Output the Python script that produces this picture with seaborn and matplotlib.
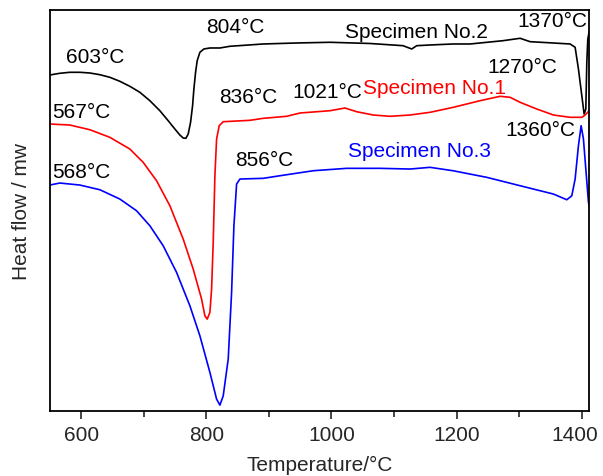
import numpy as np
import pandas as pd
import matplotlib
matplotlib.use("Agg")
import matplotlib.pyplot as plt
import matplotlib.transforms as mtransforms
import seaborn as sns
from matplotlib.ticker import MultipleLocator

# ---- data (temperature in degC, heat flow in arbitrary units) ----
temp_no2 = [549.6, 565.6, 581.6, 597.6, 613.6, 629.6, 645.6, 661.6, 677.6, 693.6, 709.6, 725.6,
            738.9, 749.6, 757.6, 762.9, 767.2, 770.9, 774.7, 777.9, 780.0, 782.7, 785.3, 789.6,
            796.0, 805.6, 821.6, 837.6, 890.9, 944.3, 997.6, 1061.6, 1114.4, 1128.3, 1136.3,
            1157.6, 1194.4, 1221.6, 1274.4, 1301.6, 1317.6, 1354.4, 1381.6, 1389.6, 1394.9,
            1400.3, 1404.0, 1406.7, 1408.3, 1409.9, 1412.0]
hf_no2 = [336.0, 337.7, 338.7, 338.7, 338.0, 336.3, 333.7, 329.7, 324.7, 318.7, 310.3, 300.3,
          290.3, 282.0, 276.0, 273.0, 272.7, 277.0, 288.7, 305.3, 322.0, 338.7, 350.3, 358.7,
          362.0, 363.0, 363.0, 364.7, 367.0, 368.0, 368.7, 367.5, 365.3, 362.0, 365.3,
          366.0, 367.0, 367.0, 370.3, 372.7, 369.3, 368.0, 367.0, 363.7, 342.0,
          315.3, 297.0, 302.0, 349.0, 372.0, 379.0]

temp_no1 = [549.6, 581.6, 613.6, 645.6, 677.6, 698.9, 720.3, 741.6, 762.9, 778.9, 792.3, 797.6,
            801.3, 805.6, 808.3, 810.9, 813.6, 816.3, 820.5, 826.9, 869.6, 890.9, 928.3, 949.6,
            997.6, 1021.6, 1040.3, 1066.9, 1093.6, 1125.6, 1157.6, 1194.9, 1237.6, 1269.6,
            1285.6, 1301.6, 1328.3, 1354.9, 1381.6, 1400.3, 1405.6, 1412.0]
hf_no1 = [287.0, 286.0, 281.3, 273.7, 262.0, 248.7, 230.3, 205.3, 172.0, 142.0, 112.0, 95.3,
          92.0, 98.7, 122.0, 168.7, 235.3, 272.0, 285.3, 289.3, 290.7, 292.7, 294.7, 298.0,
          300.3, 303.0, 299.3, 296.0, 294.7, 296.0, 298.7, 303.7, 310.3, 314.7,
          313.7, 308.7, 302.0, 296.0, 293.7, 293.7, 296.0, 300.3]

temp_no3 = [549.6, 565.6, 597.6, 629.6, 661.6, 688.3, 709.6, 730.9, 752.3, 773.6, 789.6, 805.6,
            816.3, 821.6, 826.9, 834.9, 840.3, 844.0, 848.3, 853.6, 890.9, 917.6, 970.9, 1024.3,
            1077.6, 1125.6, 1157.6, 1194.4, 1248.3, 1301.6, 1354.9, 1376.3, 1384.3, 1389.6,
            1394.9, 1399.2, 1402.9, 1406.7, 1410.9, 1412.0]
hf_no3 = [226.0, 228.0, 226.0, 221.3, 212.0, 200.3, 185.3, 165.3, 138.7, 105.3, 75.3, 38.7,
          12.0, 6.0, 15.3, 52.0, 118.7, 185.3, 227.0, 232.0, 232.7, 235.3, 240.3, 242.7,
          242.7, 242.0, 243.7, 240.3, 233.7, 225.3, 217.0, 211.3, 215.3, 232.0,
          265.3, 285.3, 272.0, 242.0, 209.0, 205.0]

# peak labels: (text, x, y)
peak_labels = [("603°C", 575, 354), ("804°C", 799, 384), ("567°C", 553, 300),
               ("836°C", 820, 315), ("568°C", 554, 240), ("856°C", 846, 252),
               ("1021°C", 938, 320), ("1270°C", 1250, 344), ("1370°C", 1297, 390),
               ("1360°C", 1278, 282)]
specimen_labels = [("Specimen No.2", 1022, 379, "black"),
                   ("Specimen No.1", 1050, 324, "red"),
                   ("Specimen No.3", 1026, 261, "blue")]
x_ticks = [600, 800, 1000, 1200, 1400]

sns.set_theme(style="ticks")
plt.rcParams['font.family'] = ['Liberation Sans', 'DejaVu Sans']

fig = plt.figure(figsize=(6.03, 4.77), dpi=100)
ax = fig.add_axes([0.083, 0.136, 0.894, 0.841])

sns.lineplot(x=temp_no2, y=hf_no2, color='black', linewidth=1.2, sort=False, estimator=None, ax=ax)
sns.lineplot(x=temp_no1, y=hf_no1, color='red', linewidth=1.2, sort=False, estimator=None, ax=ax)
sns.lineplot(x=temp_no3, y=hf_no3, color='blue', linewidth=1.2, sort=False, estimator=None, ax=ax)

for txt, x, y in peak_labels:
    ax.text(x, y, txt, fontsize=15, color='black', ha='left', va='center')
for txt, x, y, c in specimen_labels:
    ax.text(x, y, txt, fontsize=15, color=c, ha='left', va='center')

ax.set_xlim(550, 1412)
ax.set_ylim(0, 401)
ax.set_xticks(x_ticks)
ax.xaxis.set_minor_locator(MultipleLocator(100))
ax.tick_params(axis='x', which='major', direction='out', length=6, width=1.2, labelsize=15, pad=4)
ax.tick_params(axis='x', which='minor', direction='out', length=4, width=1.2)
ax.set_yticks([])
for s in ax.spines.values():
    s.set_visible(True)
    s.set_linewidth(1.3)
    s.set_color('black')

# nudge the last tick label so it stays inside the canvas
last = ax.get_xticklabels()[-1]
last.set_transform(last.get_transform() + mtransforms.ScaledTranslation(-5 / 72, 0, fig.dpi_scale_trans))

ax.set_xlabel('Temperature/°C', fontsize=15, labelpad=8)
ax.set_ylabel('Heat flow / mw', fontsize=15, labelpad=14)

fig.savefig('out.png', dpi=100)
